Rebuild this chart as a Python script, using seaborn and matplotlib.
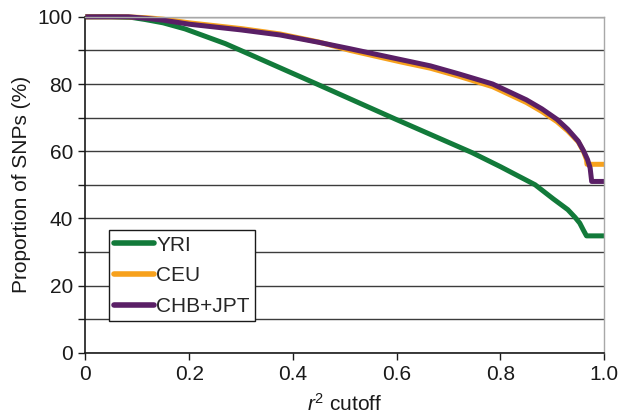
import pandas as pd
import matplotlib.pyplot as plt
import seaborn as sns

# values (r^2 cutoff vs % of SNPs)
yri_x = [0, 0.05, 0.09, 0.115, 0.15, 0.192, 0.27, 0.317, 0.38, 0.446, 0.52,
         0.597, 0.665, 0.745, 0.8, 0.867, 0.902, 0.93, 0.944, 0.953, 0.96,
         0.966, 1.0]
yri_y = [100, 100, 99.8, 99.2, 98.2, 96.4, 92.0, 88.8, 84.5, 80, 74.9,
         69.6, 65.0, 59.6, 55.4, 50, 45.8, 42.6, 40.3, 38.6, 36.5,
         34.8, 34.8]

ceu_x = [0, 0.08, 0.12, 0.15, 0.2, 0.3, 0.375, 0.45, 0.51, 0.607, 0.665,
         0.72, 0.785, 0.85, 0.88, 0.909, 0.93, 0.95, 0.96, 0.966, 0.967, 1.0]
ceu_y = [100, 100, 99.7, 99.3, 98.2, 96.5, 94.9, 92.5, 90.0, 86.6, 84.7,
         82.3, 79.2, 74.5, 71.8, 68.8, 66.0, 62.8, 60.0, 57.5, 56.1, 56.1]

chb_x = [0, 0.083, 0.12, 0.15, 0.2, 0.3, 0.375, 0.45, 0.51, 0.607, 0.665,
         0.72, 0.785, 0.85, 0.88, 0.909, 0.93, 0.95, 0.96, 0.968, 0.973,
         0.976, 1.0]
chb_y = [100, 100, 99.5, 99.0, 97.8, 96.1, 94.6, 92.4, 90.5, 87.3, 85.4,
         83.0, 80.0, 75.3, 72.6, 69.5, 66.5, 63.0, 60.2, 57.5, 55.0,
         51.0, 51.0]

pops = ['YRI', 'CEU', 'CHB+JPT']
colors = ['#127a3a', '#f7a11c', '#5a1f66']

frames = []
for name, xs, ys in zip(pops, [yri_x, ceu_x, chb_x], [yri_y, ceu_y, chb_y]):
    frames.append(pd.DataFrame({'r2': xs, 'pct': ys, 'pop': name}))
df = pd.concat(frames, ignore_index=True)

sns.set_theme(style='white')
plt.rcParams['font.family'] = ['Liberation Sans', 'DejaVu Sans']
plt.rcParams['mathtext.fontset'] = 'custom'
plt.rcParams['mathtext.it'] = 'Liberation Sans:italic'
plt.rcParams['mathtext.rm'] = 'Liberation Sans'

fig, ax = plt.subplots(figsize=(6.28, 4.2), dpi=100)
fig.subplots_adjust(left=0.136, right=0.962, bottom=0.16, top=0.96)

sns.lineplot(data=df, x='r2', y='pct', hue='pop', palette=dict(zip(pops, colors)),
             sort=False, estimator=None, lw=3.6, ax=ax)
for ln in ax.get_lines():
    ln.set_clip_on(False)
    ln.set_solid_capstyle('butt')
    ln.set_solid_joinstyle('round')

ax.set_xlim(0, 1)
ax.set_ylim(0, 100)
ax.set_xticks([0, 0.2, 0.4, 0.6, 0.8, 1.0])
ax.set_xticklabels(['0', '0.2', '0.4', '0.6', '0.8', '1.0'])
ax.set_yticks(range(0, 101, 10))
ax.set_yticklabels([str(v) if v % 20 == 0 else '' for v in range(0, 101, 10)])
ax.tick_params(axis='both', labelsize=15, colors='#1a1a1a', length=5, width=1,
               direction='out', left=True, bottom=True, pad=4)
ax.yaxis.grid(True, color='#3c3c3c', lw=1)
ax.xaxis.grid(False)
ax.set_axisbelow(True)

for s in ['left', 'bottom']:
    ax.spines[s].set_color('#1a1a1a')
    ax.spines[s].set_linewidth(1.2)
for s in ['top', 'right']:
    ax.spines[s].set_color('#a8a8a8')
    ax.spines[s].set_linewidth(1)

ax.set_xlabel(r'$r^2$ cutoff', fontsize=15, color='#1a1a1a', labelpad=6)
ax.set_ylabel('Proportion of SNPs (%)', fontsize=15, color='#1a1a1a', labelpad=5)

handles, labels = ax.get_legend_handles_labels()
leg = ax.legend(handles, labels, loc='lower left', bbox_to_anchor=(0.046, 0.094),
                borderaxespad=0, fontsize=15, frameon=True, fancybox=False,
                framealpha=1, edgecolor='#1a1a1a', handlelength=1.9,
                handletextpad=0.1, labelspacing=0.56, borderpad=0.25)
leg.get_frame().set_linewidth(1)
for ln in leg.get_lines():
    ln.set_linewidth(4)
    ln.set_solid_capstyle('round')

plt.savefig('out.png', dpi=100)
